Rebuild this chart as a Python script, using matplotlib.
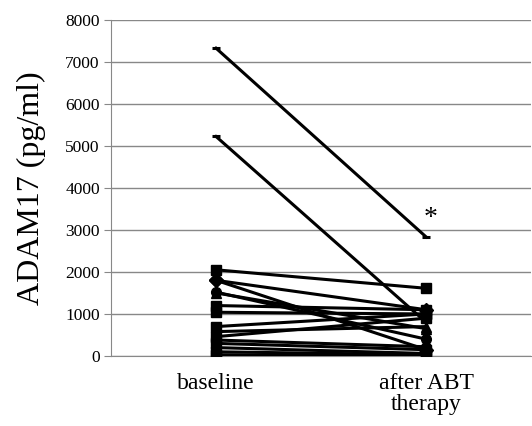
import matplotlib
matplotlib.use("Agg")
import matplotlib.pyplot as plt
import numpy as np

categories = ['baseline', 'after ABT\ntherapy']

# paired values (pg/ml) per patient: baseline, after ABT therapy
baseline = [7320, 5220, 2050, 1800, 1800, 1520, 1500, 1200, 1040,
            700, 580, 460, 380, 300, 200, 100, 30]
after = [2830, 800, 1610, 1100, 150, 400, 650, 1100, 1000,
         1000, 700, 900, 220, 150, 60, 30, 10]
markers = ['_', '_', 's', 'D', 'D', 'o', '^', 's', 's',
           's', '^', 's', 'o', 's', '^', 's', 's']

# faint brown point hidden at the bottom of the baseline column
extra_base = [0]
extra_after = [0]

plt.rcParams['font.family'] = ['Liberation Serif', 'DejaVu Serif']

fig = plt.figure(figsize=(5.32, 4.26), dpi=100)
ax = fig.add_axes([0.2086, 0.1643, 0.79, 0.7897])

x = np.array([0, 1])

ax.plot(x, [extra_base[0], extra_after[0]], color='#a0522d', marker='o',
        markersize=6, linewidth=2.2, zorder=2)

for b, a, m in zip(baseline, after, markers):
    if m == '_':
        ax.plot(x, [b, a], color='black', linewidth=2.2, marker='_',
                markersize=6, markeredgewidth=2.2, zorder=3)
    else:
        ax.plot(x, [b, a], color='black', linewidth=2.2, marker=m,
                markersize=7, zorder=3)

ax.text(1.02, 3280, '*', ha='center', va='center', fontsize=20)

ax.set_xlim(-0.5, 1.5)
ax.set_ylim(0, 8000)
ax.set_yticks(np.arange(0, 8001, 1000))
ax.set_xticks(x)
ax.set_xticklabels(categories, fontsize=17, linespacing=1.05)
ax.tick_params(axis='y', labelsize=12.5, length=5, color='#888888', pad=3)
ax.tick_params(axis='x', length=0, pad=12)
ax.yaxis.grid(True, color='#888888', linewidth=1)
ax.set_axisbelow(True)

for s in ['top', 'right']:
    ax.spines[s].set_visible(False)
ax.spines['left'].set_color('#888888')
ax.spines['bottom'].set_color('#888888')

ax.set_ylabel('ADAM17 (pg/ml)', fontsize=23, labelpad=14)

fig.savefig('out.png', dpi=100)
